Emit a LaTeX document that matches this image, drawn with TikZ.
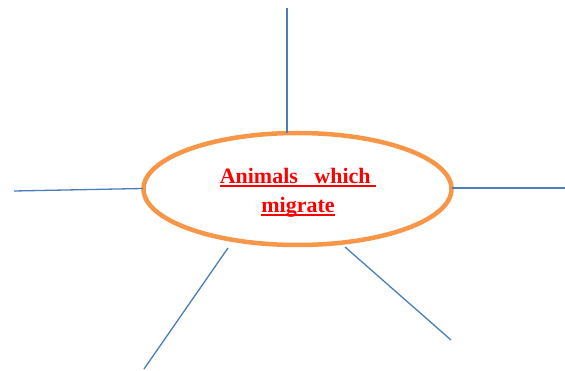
\documentclass[tikz,border=0pt]{standalone}
\usepackage{fontspec}
\setmainfont{Liberation Serif}
\usetikzlibrary{shapes.geometric}
\definecolor{orng}{HTML}{F79646}
\definecolor{lblue}{HTML}{4A7EBB}
\newcommand\myul[1]{\setbox0\hbox{#1}\rlap{\rule[-3pt]{\wd0}{1.6pt}}\box0}
\tikzset{
  spoke/.style={draw=lblue, line width=1.3pt},
  bubble/.style={ellipse, draw=orng, line width=4.5pt, minimum width=308pt, minimum height=112pt, inner sep=0pt},
  title/.style={text=red, font=\bfseries\fontsize{22}{29}\selectfont, align=center}
}
\begin{document}
\begin{tikzpicture}[x=1pt,y=-1pt]
\useasboundingbox (0,0) rectangle (565,371);
\node[bubble] (e) at (297.5,189) {};
\node[title] (t) at (298,193) {\myul{Animals\ \ \ which\ }\\\myul{migrate}};
\coordinate (t1) at (287,8);
\coordinate (t0) at (287,133);
\coordinate (l1) at (14,191);
\coordinate (l0) at (143,188.5);
\coordinate (r1) at (565,188);
\coordinate (r0) at (452,188);
\coordinate (bl0) at (228,248);
\coordinate (bl1) at (144,369);
\coordinate (br0) at (345,247);
\coordinate (br1) at (451,340);
\draw[spoke] (t0) -- (t1);
\draw[spoke] (l0) -- (l1);
\draw[spoke] (r0) -- (r1);
\draw[spoke] (bl0) -- (bl1);
\draw[spoke] (br0) -- (br1);
\end{tikzpicture}
\end{document}
